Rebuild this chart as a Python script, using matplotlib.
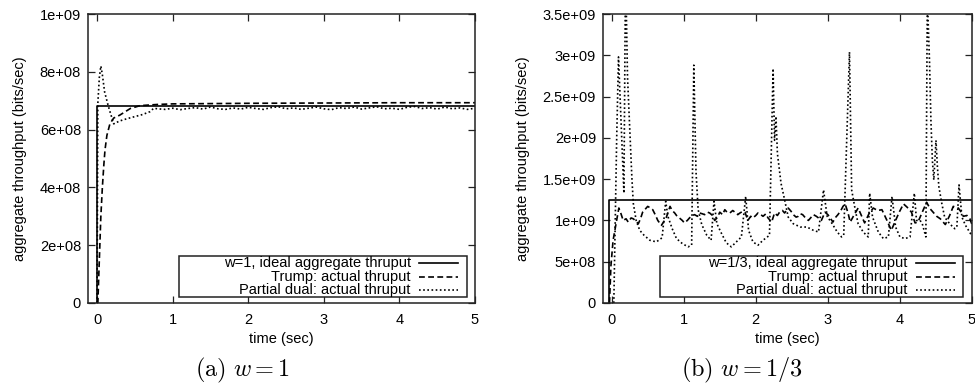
import matplotlib
matplotlib.use("Agg")
import matplotlib.pyplot as plt
from matplotlib.patches import Rectangle

plt.rcParams['font.family'] = ['Liberation Sans', 'DejaVu Sans']
plt.rcParams['mathtext.fontset'] = 'cm'

# ---------------- data: panel (a) w = 1 ----------------
a_ideal_t = [0, 0, 5]
a_ideal_v = [0, 6.8e8, 6.8e8]

a_trump_t = [0, 0.01, 0.03, 0.05, 0.07, 0.09, 0.105, 0.13, 0.17, 0.22, 0.3, 0.44,
             0.57, 0.8, 1.0, 2.0, 3.0, 4.0, 5.0]
a_trump_v = [0, 0.0, 1.5e8, 3.0e8, 4.0e8, 4.8e8, 5.3e8, 5.8e8, 6.2e8, 6.4e8, 6.5e8,
             6.73e8, 6.83e8, 6.87e8, 6.89e8, 6.91e8, 6.92e8, 6.93e8, 6.93e8]

a_dual_t = [0, 0.01, 0.03, 0.05, 0.07, 0.1, 0.15, 0.22, 0.3, 0.4, 0.5, 0.6, 0.7, 0.75,
            0.8, 0.9, 1.0, 1.1, 1.2, 1.3, 1.4, 1.5, 1.6, 1.7, 1.8, 1.9, 2.0, 2.1, 2.2,
            2.3, 2.4, 2.5, 2.6, 2.7, 2.8, 2.9, 3.0, 3.1, 3.2, 3.3, 3.4, 3.5, 3.6, 3.7,
            3.8, 3.9, 4.0, 4.1, 4.2, 4.3, 4.4, 4.5, 4.6, 4.7, 4.8, 4.9, 5.0]
a_dual_v = [0, 6.9e8, 7.8e8, 8.2e8, 7.9e8, 7.3e8, 6.8e8, 6.2e8, 6.3e8, 6.38e8, 6.45e8,
            6.52e8, 6.62e8, 6.74e8,
            6.72e8, 6.70e8, 6.74e8, 6.69e8, 6.73e8, 6.76e8, 6.71e8, 6.78e8, 6.72e8,
            6.70e8, 6.75e8, 6.71e8, 6.77e8, 6.73e8, 6.70e8, 6.76e8, 6.79e8, 6.72e8,
            6.75e8, 6.70e8, 6.74e8, 6.78e8, 6.72e8, 6.69e8, 6.76e8, 6.73e8, 6.78e8,
            6.71e8, 6.75e8, 6.79e8, 6.72e8, 6.74e8, 6.70e8, 6.77e8, 6.80e8, 6.73e8,
            6.76e8, 6.71e8, 6.78e8, 6.72e8, 6.75e8, 6.70e8, 6.74e8]

a_yticks = [0, 2e8, 4e8, 6e8, 8e8, 1e9]
a_yticklabels = ['0', '2e+08', '4e+08', '6e+08', '8e+08', '1e+09']

# ---------------- data: panel (b) w = 1/3 ----------------
b_ideal_t = [-0.03, -0.03, 5]
b_ideal_v = [0, 1.25e9, 1.25e9]

b_trump_t = [-0.03, -0.01, 0.02, 0.065, 0.1, 0.13, 0.16, 0.2, 0.23, 0.27, 0.3, 0.34,
             0.37, 0.4, 0.43, 0.47, 0.5, 0.54, 0.57, 0.61, 0.64, 0.69, 0.72, 0.76,
             0.81, 0.84, 0.875, 0.9, 0.94, 0.98, 1.01, 1.05, 1.08, 1.12, 1.15, 1.19,
             1.22, 1.26, 1.29, 1.33, 1.36, 1.4, 1.43, 1.47, 1.5, 1.54, 1.57, 1.6,
             1.64, 1.68, 1.71, 1.75, 1.78, 1.82, 1.85, 1.89, 1.93, 1.96, 2.0, 2.03,
             2.07, 2.1, 2.14, 2.17, 2.22, 2.26, 2.3, 2.33, 2.37, 2.4, 2.45, 2.49,
             2.52, 2.56, 2.59, 2.62, 2.65, 2.69, 2.73, 2.77, 2.8, 2.84, 2.87, 2.91,
             2.96, 3.0, 3.04, 3.07, 3.1, 3.14, 3.18, 3.21, 3.24, 3.28, 3.31, 3.36,
             3.42, 3.47, 3.51, 3.57, 3.63, 3.69, 3.75, 3.82, 3.88, 3.93, 3.99, 4.05,
             4.1, 4.16, 4.21, 4.25, 4.31, 4.37, 4.42, 4.46, 4.51, 4.56, 4.63, 4.69,
             4.74, 4.81, 4.85, 4.88, 4.93, 4.97, 5.0]
b_trump_v = [0, 0.45e9, 0.76e9, 0.98e9, 1.15e9, 1.08e9, 1.0e9, 1.02e9, 0.98e9, 1.03e9,
             1.02e9, 0.99e9, 0.96e9, 1.02e9, 1.1e9, 1.14e9, 1.17e9, 1.15e9, 1.13e9,
             1.06e9, 1.0e9, 0.94e9, 0.98e9, 1.04e9, 1.17e9, 1.12e9, 1.09e9, 1.06e9,
             1.03e9, 1.0e9, 0.97e9, 1.0e9, 1.03e9, 1.06e9, 1.07e9, 1.05e9, 1.09e9,
             1.08e9, 1.07e9, 1.1e9, 1.09e9, 1.06e9, 1.0e9, 1.04e9, 1.1e9, 1.07e9,
             1.13e9, 1.1e9, 1.09e9, 1.12e9, 1.1e9, 1.07e9, 1.09e9, 1.11e9, 1.1e9,
             1.0e9, 1.05e9, 1.03e9, 1.06e9, 1.09e9, 1.07e9, 1.05e9, 1.08e9, 1.03e9,
             0.98e9, 1.09e9, 1.06e9, 1.1e9, 1.12e9, 1.09e9, 1.15e9, 1.11e9, 1.07e9,
             1.04e9, 1.05e9, 1.08e9, 1.07e9, 1.03e9, 1.0e9, 1.04e9, 1.07e9, 1.05e9,
             1.03e9, 1.0e9, 1.1e9, 1.07e9, 1.02e9, 0.98e9, 1.03e9, 1.07e9, 1.12e9,
             1.17e9, 1.2e9, 1.09e9, 0.98e9, 1.06e9, 1.15e9, 1.05e9, 0.97e9, 1.08e9,
             1.15e9, 1.12e9, 1.13e9, 1.0e9, 0.88e9, 0.98e9, 1.1e9, 1.2e9, 1.16e9,
             1.1e9, 0.97e9, 0.98e9, 1.1e9, 1.22e9, 1.14e9, 1.1e9, 1.05e9, 1.02e9,
             0.95e9, 1.06e9, 1.17e9, 1.15e9, 1.1e9, 1.05e9, 1.06e9, 1.02e9, 0.95e9]

b_dual_t = [0.03, 0.07, 0.095, 0.17, 0.19, 0.2, 0.22, 0.25, 0.28, 0.3, 0.34, 0.39,
            0.45, 0.53, 0.62, 0.7, 0.75, 0.78, 0.84, 0.9, 0.98, 1.06, 1.11, 1.14,
            1.17, 1.2, 1.25, 1.32, 1.38, 1.42, 1.46, 1.52, 1.59, 1.66, 1.73, 1.8,
            1.86, 1.9, 1.96, 2.03, 2.1, 2.16, 2.19, 2.24, 2.26, 2.28, 2.3, 2.35,
            2.4, 2.45, 2.52, 2.62, 2.71, 2.8, 2.87, 2.94, 2.99, 3.06, 3.13, 3.19,
            3.22, 3.3, 3.33, 3.38, 3.42, 3.49, 3.56, 3.58, 3.62, 3.7, 3.77, 3.84,
            3.89, 3.94, 4.0, 4.07, 4.14, 4.2, 4.23, 4.28, 4.31, 4.36, 4.38, 4.41,
            4.43, 4.45, 4.47, 4.5, 4.52, 4.54, 4.58, 4.62, 4.69, 4.76, 4.79, 4.82,
            4.86, 4.91, 4.98, 5.0]
b_dual_v = [0, 2.0e9, 2.98e9, 1.33e9, 3.7e9, 3.7e9, 2.74e9, 2.13e9, 1.53e9, 1.21e9,
            1.0e9, 0.88e9, 0.82e9, 0.76e9, 0.74e9, 0.79e9, 1.23e9, 1.05e9, 0.9e9,
            0.78e9, 0.72e9, 0.68e9, 0.7e9, 2.88e9, 1.6e9, 1.13e9, 0.95e9, 0.82e9,
            0.76e9, 1.23e9, 0.96e9, 0.85e9, 0.73e9, 0.68e9, 0.74e9, 0.8e9, 1.29e9,
            0.88e9, 0.74e9, 0.7e9, 0.76e9, 0.8e9, 0.82e9, 2.84e9, 1.97e9, 2.26e9,
            1.81e9, 1.45e9, 1.25e9, 1.04e9, 0.96e9, 0.92e9, 0.92e9, 0.88e9, 0.86e9,
            1.37e9, 1.05e9, 0.96e9, 0.86e9, 0.8e9, 0.82e9, 3.04e9, 1.37e9, 1.13e9,
            0.96e9, 0.86e9, 0.8e9, 1.33e9, 1.04e9, 0.86e9, 0.78e9, 0.8e9, 1.29e9,
            0.92e9, 0.8e9, 0.78e9, 0.8e9, 1.33e9, 1.0e9, 1.0e9, 0.96e9, 0.8e9,
            3.7e9, 2.94e9, 2.21e9, 1.73e9, 1.49e9, 1.97e9, 1.65e9, 1.41e9, 1.21e9,
            1.04e9, 0.96e9, 0.9e9, 0.92e9, 1.43e9, 1.04e9, 0.94e9, 0.84e9, 0.88e9]

b_yticks = [0, 5e8, 1e9, 1.5e9, 2e9, 2.5e9, 3e9, 3.5e9]
b_yticklabels = ['0', '5e+08', '1e+09', '1.5e+09', '2e+09', '2.5e+09', '3e+09', '3.5e+09']

xticks = [0, 1, 2, 3, 4, 5]
labels_a = ['w=1, ideal aggregate thruput', 'Trump: actual thruput', 'Partial dual: actual thruput']
labels_b = ['w=1/3, ideal aggregate thruput', 'Trump: actual thruput', 'Partial dual: actual thruput']
captions = [r'$\mathrm{(a)}\ w = 1$', r'$\mathrm{(b)}\ w = 1/3$']

# ---------------- styling ----------------
FS = 10.5
LW = 1.2
DASH = (3.5, 2.0)
DOT = (1.0, 1.5)
styles = [dict(linestyle='-'), dict(dashes=DASH), dict(dashes=DOT)]

fig = plt.figure(figsize=(9.75, 3.83), dpi=100)
axa = fig.add_axes([88/975, 80/383, 387/975, 289/383])
axb = fig.add_axes([603/975, 80/383, 369/975, 289/383])


def setup(ax, ylim, yticks, yticklabels):
    ax.set_xlim(-0.12, 5)
    ax.set_ylim(*ylim)
    ax.set_xticks(xticks)
    ax.set_xticklabels([str(x) for x in xticks], fontsize=FS)
    ax.set_yticks(yticks)
    ax.set_yticklabels(yticklabels, fontsize=FS)
    ax.tick_params(direction='in', length=5, width=0.9, top=True, right=True,
                   color='#222222')
    ax.tick_params(axis='y', pad=5)
    ax.tick_params(axis='x', pad=7)
    for s in ax.spines.values():
        s.set_linewidth(1.1)
        s.set_color('#222222')
    ax.set_xlabel('time (sec)', fontsize=FS, labelpad=4)
    ax.set_ylabel('aggregate throughput (bits/sec)', fontsize=FS, labelpad=9)


def legend_box(ax, labels, x0, x1, xtext, xs0, xs1):
    ax.add_patch(Rectangle((x0, 0.021), x1 - x0, 0.142, transform=ax.transAxes,
                           facecolor='white', edgecolor='#222222', lw=1.1, zorder=5))
    rows = [0.137, 0.091, 0.045]
    for lab, y, st in zip(labels, rows, styles):
        ax.text(xtext, y, lab, transform=ax.transAxes, ha='right', va='center',
                fontsize=FS, zorder=6)
        ax.plot([xs0, xs1], [y, y], transform=ax.transAxes, color='black', lw=LW,
                zorder=6, clip_on=False, **st)


# panel a
axa.plot(a_ideal_t, a_ideal_v, color='black', lw=LW, **styles[0])
axa.plot(a_trump_t, a_trump_v, color='black', lw=LW, **styles[1])
axa.plot(a_dual_t, a_dual_v, color='black', lw=LW, **styles[2])
setup(axa, (0, 1e9), a_yticks, a_yticklabels)
legend_box(axa, labels_a, 0.235, 0.979, 0.834, 0.856, 0.957)

# panel b
axb.plot(b_ideal_t, b_ideal_v, color='black', lw=LW, **styles[0])
axb.plot(b_trump_t, b_trump_v, color='black', lw=LW, **styles[1])
axb.plot(b_dual_t, b_dual_v, color='black', lw=LW, **styles[2])
setup(axb, (0, 3.5e9), b_yticks, b_yticklabels)
legend_box(axb, labels_b, 0.154, 0.976, 0.826, 0.848, 0.954)

fig.text(243/975, 1 - 370/383, captions[0], ha='center', va='center', fontsize=17.5)
fig.text(742/975, 1 - 370/383, captions[1], ha='center', va='center', fontsize=17.5)

fig.savefig('out.png', dpi=100)
